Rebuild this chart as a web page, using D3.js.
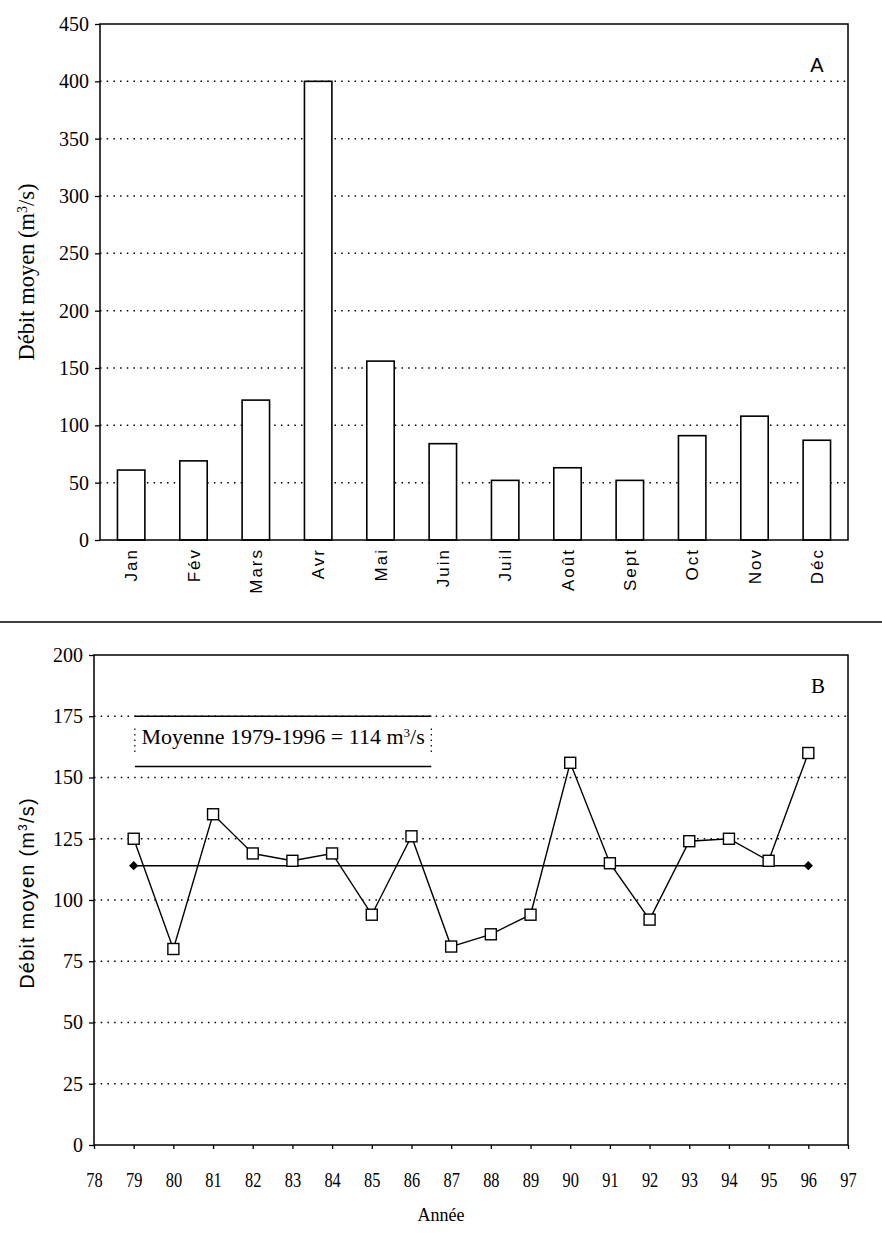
<!DOCTYPE html>
<html>
<head>
<meta charset="utf-8">
<script src="https://cdn.jsdelivr.net/npm/d3@7"></script>
<style>
  body { margin: 0; background: #fff; }
  .grid line { stroke: #000; stroke-width: 1.5; stroke-dasharray: 1.5,5.2; }
  .axis path, .axis line { stroke: #000; stroke-width: 1.3; }
</style>
</head>
<body>
<div class="container_main"></div>
<script>
// --- data ---
const months = ["Jan", "Fév", "Mars", "Avr", "Mai", "Juin", "Juil", "Août", "Sept", "Oct", "Nov", "Déc"];
const debitMensuel = [61, 69, 122, 400, 156, 84, 52, 63, 52, 91, 108, 87];

const years = [79, 80, 81, 82, 83, 84, 85, 86, 87, 88, 89, 90, 91, 92, 93, 94, 95, 96];
const debitAnnuel = [125, 80, 135, 119, 116, 119, 94, 126, 81, 86, 94, 156, 115, 92, 124, 125, 116, 160];
const moyenne = 114;

const ticksA = [0, 50, 100, 150, 200, 250, 300, 350, 400, 450];
const ticksB = [0, 25, 50, 75, 100, 125, 150, 175, 200];
const yearTicks = [78, 79, 80, 81, 82, 83, 84, 85, 86, 87, 88, 89, 90, 91, 92, 93, 94, 95, 96, 97];

const serif = "'Liberation Serif', 'Times New Roman', serif";
const sans = "'Liberation Sans', Arial, sans-serif";

svg = d3.select(".container_main")
  .append("svg")
  .attr("width", 882)
  .attr("height", 1234);

// ================= chart A : bars =================
const A = {left: 100, right: 848, top: 24, bottom: 540};

xA = d3.scaleBand()
  .domain(months)
  .range([A.left, A.right])
  .paddingInner(0.56)
  .paddingOuter(0.28);
yA = d3.scaleLinear()
  .domain([0, 450])
  .range([A.bottom, A.top]);

// dotted gridlines
svg.append("g")
  .attr("class", "grid")
  .selectAll("line")
  .data(ticksA.filter(d => d > 0 && d < 450))
  .enter().append("line")
    .attr("x1", A.left).attr("x2", A.right)
    .attr("y1", d => yA(d)).attr("y2", d => yA(d));

svg.selectAll(".bar")
  .data(months)
  .enter().append("rect")
    .attr("class", "bar")
    .attr("x", d => xA(d))
    .attr("y", (d, i) => yA(debitMensuel[i]))
    .attr("width", xA.bandwidth())
    .attr("height", (d, i) => yA(0) - yA(debitMensuel[i]))
    .attr("fill", "#fff")
    .attr("stroke", "#000")
    .attr("stroke-width", 1.6);

// frame
svg.append("rect")
  .attr("x", A.left).attr("y", A.top)
  .attr("width", A.right - A.left).attr("height", A.bottom - A.top)
  .attr("fill", "none").attr("stroke", "#000").attr("stroke-width", 1.5);

axYA = svg.append("g")
  .attr("class", "axis")
  .attr("transform", "translate(" + A.left + ",0)")
  .call(d3.axisLeft(yA).tickValues(ticksA).tickSize(5).tickPadding(6));
axYA.select(".domain").remove();
axYA.selectAll("text").attr("font-family", serif).attr("font-size", 20).attr("fill", "#000");

axXA = svg.append("g")
  .attr("class", "axis")
  .attr("transform", "translate(0," + A.bottom + ")")
  .call(d3.axisBottom(xA).tickSize(0));
axXA.select(".domain").remove();
axXA.selectAll("text")
  .attr("transform", "rotate(-90)")
  .attr("text-anchor", "end")
  .attr("x", -8)
  .attr("y", 0)
  .attr("dy", "0.36em")
  .attr("font-family", sans)
  .attr("font-size", 17)
  .attr("letter-spacing", 2)
  .attr("fill", "#000");

titleA = svg.append("text")
  .attr("transform", "translate(34,272) rotate(-90)")
  .attr("text-anchor", "middle")
  .attr("font-family", serif)
  .attr("font-size", 22.5);
titleA.append("tspan").text("Débit moyen (m");
titleA.append("tspan").attr("font-size", 14).attr("baseline-shift", "super").text("3");
titleA.append("tspan").text("/s)");

svg.append("text")
  .attr("x", 817).attr("y", 72)
  .attr("text-anchor", "middle")
  .attr("font-family", sans)
  .attr("font-size", 20)
  .text("A");

// separator between the two panels
svg.append("line")
  .attr("x1", 0).attr("x2", 882)
  .attr("y1", 622).attr("y2", 622)
  .attr("stroke", "#000").attr("stroke-width", 1.6);

// ================= chart B : yearly line =================
const B = {left: 94, right: 848, top: 655, bottom: 1145};

xB = d3.scaleLinear()
  .domain([78, 97])
  .range([B.left, B.right]);
yB = d3.scaleLinear()
  .domain([0, 200])
  .range([B.bottom, B.top]);

svg.append("g")
  .attr("class", "grid")
  .selectAll("line")
  .data(ticksB.filter(d => d > 0 && d < 200))
  .enter().append("line")
    .attr("x1", B.left).attr("x2", B.right)
    .attr("y1", d => yB(d)).attr("y2", d => yB(d));

svg.append("rect")
  .attr("x", B.left).attr("y", B.top)
  .attr("width", B.right - B.left).attr("height", B.bottom - B.top)
  .attr("fill", "none").attr("stroke", "#000").attr("stroke-width", 1.5);

axYB = svg.append("g")
  .attr("class", "axis")
  .attr("transform", "translate(" + B.left + ",0)")
  .call(d3.axisLeft(yB).tickValues(ticksB).tickSize(5).tickPadding(6));
axYB.select(".domain").remove();
axYB.selectAll("text").attr("font-family", serif).attr("font-size", 20).attr("fill", "#000");

axXB = svg.append("g")
  .attr("class", "axis")
  .attr("transform", "translate(0," + B.bottom + ")")
  .call(d3.axisBottom(xB).tickValues(yearTicks).tickSize(4).tickPadding(23));
axXB.select(".domain").remove();
axXB.selectAll("text")
  .attr("transform", "scale(0.78,1)")
  .attr("font-family", serif)
  .attr("font-size", 21)
  .attr("fill", "#000");

// legend box for the mean
const legX0 = 79.03, legX1 = 86.5;
svg.append("line")
  .attr("x1", xB(legX0)).attr("x2", xB(legX1))
  .attr("y1", yB(175)).attr("y2", yB(175))
  .attr("stroke", "#000").attr("stroke-width", 1.5);
svg.append("line")
  .attr("x1", xB(legX0)).attr("x2", xB(legX1))
  .attr("y1", yB(154.5)).attr("y2", yB(154.5))
  .attr("stroke", "#000").attr("stroke-width", 1.5);
[legX0, legX1].forEach(function(v) {
  svg.append("line")
    .attr("x1", xB(v)).attr("x2", xB(v))
    .attr("y1", yB(170)).attr("y2", yB(160))
    .attr("stroke", "#000").attr("stroke-width", 1.2)
    .attr("stroke-dasharray", "1.5,4");
});
leg = svg.append("text")
  .attr("x", xB((legX0 + legX1) / 2)).attr("y", yB(163.7))
  .attr("text-anchor", "middle")
  .attr("font-family", serif)
  .attr("font-size", 22);
leg.append("tspan").text("Moyenne 1979-1996 = 114 m");
leg.append("tspan").attr("font-size", 13).attr("baseline-shift", "super").text("3");
leg.append("tspan").text("/s");

// mean line with diamond ends
svg.append("line")
  .attr("x1", xB(years[0])).attr("x2", xB(years[years.length - 1]))
  .attr("y1", yB(moyenne)).attr("y2", yB(moyenne))
  .attr("stroke", "#000").attr("stroke-width", 1.4);
svg.selectAll(".diamond")
  .data([years[0], years[years.length - 1]])
  .enter().append("path")
    .attr("class", "diamond")
    .attr("d", d3.symbol(d3.symbolDiamond2, 55))
    .attr("transform", d => "translate(" + xB(d) + "," + yB(moyenne) + ")")
    .attr("fill", "#000");

// yearly series
lineB = d3.line()
  .x((d, i) => xB(years[i]))
  .y(d => yB(d));
svg.append("path")
  .datum(debitAnnuel)
  .attr("d", lineB)
  .attr("fill", "none")
  .attr("stroke", "#000")
  .attr("stroke-width", 1.4);

svg.selectAll(".marker")
  .data(debitAnnuel)
  .enter().append("rect")
    .attr("class", "marker")
    .attr("x", (d, i) => xB(years[i]) - 5.5)
    .attr("y", d => yB(d) - 5.5)
    .attr("width", 11).attr("height", 11)
    .attr("fill", "#fff")
    .attr("stroke", "#000")
    .attr("stroke-width", 1.4);

titleB = svg.append("text")
  .attr("transform", "translate(34,893) rotate(-90)")
  .attr("text-anchor", "middle")
  .attr("font-family", sans)
  .attr("font-size", 20)
  .attr("letter-spacing", 1.2);
titleB.append("tspan").text("Débit moyen  (m");
titleB.append("tspan").attr("font-size", 12).attr("baseline-shift", "super").text("3");
titleB.append("tspan").text("/s)");

svg.append("text")
  .attr("x", 818).attr("y", 693)
  .attr("text-anchor", "middle")
  .attr("font-family", serif)
  .attr("font-size", 21)
  .text("B");

svg.append("text")
  .attr("x", 441).attr("y", 1221)
  .attr("text-anchor", "middle")
  .attr("font-family", serif)
  .attr("font-size", 18)
  .text("Année");
</script>
</body>
</html>
